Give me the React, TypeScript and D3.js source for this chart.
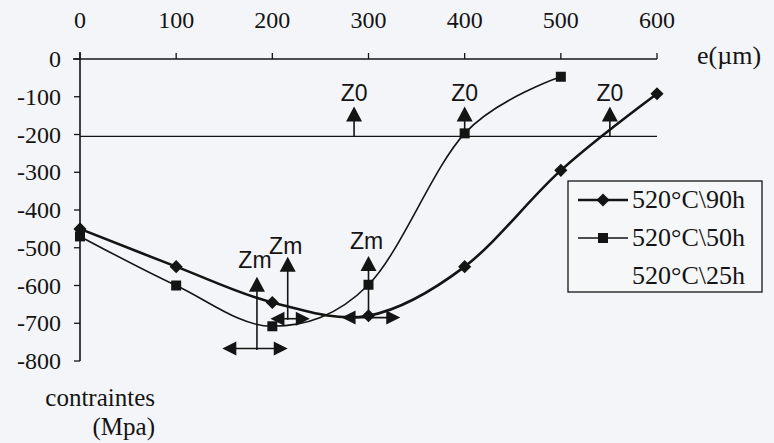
import React, { useEffect, useRef } from "react";
import * as d3 from "d3";

// épaisseur e (µm) et contraintes (MPa)
const depths = [0, 100, 200, 300, 400, 500, 600];
const stress90h = [-450, -550, -645, -680, -550, -295, -92];
const stress50h = [-470, -600, -708, -598, -197, -47];
const xTicks = [0, 100, 200, 300, 400, 500, 600];
const yTicks = [0, -100, -200, -300, -400, -500, -600, -700, -800];
const legendLabels = ["520°C\\90h", "520°C\\50h", "520°C\\25h"];

// annotations (data units)
const z0Level = -205;
const z0Positions = [285, 400, 551];
const zmArrows = [
  { x: 184, from: -771, tip: -577, label: -554 },
  { x: 216, from: -691, tip: -524, label: -517 },
  { x: 300, from: -686, tip: -522, label: -503 },
];
const spanArrows = [
  { y: -767, x0: 148, x1: 216 },
  { y: -688, x0: 198, x1: 239 },
  { y: -685, x0: 272, x1: 333 },
];

const W = 774;
const H = 443;
const INK = "#141414";
const SERIF = "'Liberation Serif', 'Times New Roman', serif";
const SANS = "'Liberation Sans', Arial, sans-serif";

const App = () => {
  const svgRef = useRef<SVGSVGElement>(null);

  useEffect(() => {
    const svg = d3.select(svgRef.current);
    svg.selectAll("*").remove();

    const x = d3.scaleLinear().domain([0, 600]).range([80, 657]);
    const y = d3.scaleLinear().domain([-800, 0]).range([361, 59]);

    svg.append("rect").attr("width", W).attr("height", H).attr("fill", "#f4f5f8");

    // top axis
    const top = svg.append("g");
    top.append("line")
      .attr("x1", x(0) - 7).attr("x2", x(600))
      .attr("y1", y(0)).attr("y2", y(0))
      .attr("stroke", INK).attr("stroke-width", 1.3);
    top.selectAll("line.tick").data(xTicks).join("line")
      .attr("class", "tick")
      .attr("x1", (d) => x(d)).attr("x2", (d) => x(d))
      .attr("y1", y(0)).attr("y2", y(0) - 6)
      .attr("stroke", INK).attr("stroke-width", 1.3);
    top.selectAll("text").data(xTicks).join("text")
      .attr("x", (d) => x(d)).attr("y", 28)
      .attr("text-anchor", "middle")
      .attr("font-family", SERIF).attr("font-size", 24)
      .attr("fill", INK)
      .text((d) => d);

    // left axis
    const left = svg.append("g");
    left.append("line")
      .attr("x1", x(0)).attr("x2", x(0))
      .attr("y1", y(0) - 7).attr("y2", y(-800))
      .attr("stroke", INK).attr("stroke-width", 1.6);
    left.selectAll("line.tick").data(yTicks).join("line")
      .attr("class", "tick")
      .attr("x1", x(0) - 6).attr("x2", x(0))
      .attr("y1", (d) => y(d)).attr("y2", (d) => y(d))
      .attr("stroke", INK).attr("stroke-width", 1.3);
    left.selectAll("text").data(yTicks).join("text")
      .attr("x", 61).attr("y", (d) => y(d) + 8)
      .attr("text-anchor", "end")
      .attr("font-family", SERIF).attr("font-size", 24)
      .attr("fill", INK)
      .text((d) => (d === 0 ? "0" : `-${Math.abs(d)}`));

    svg.append("text")
      .attr("x", 155).attr("y", 406)
      .attr("text-anchor", "end")
      .attr("font-family", SERIF).attr("font-size", 25).attr("fill", INK)
      .text("contraintes");
    svg.append("text")
      .attr("x", 155).attr("y", 435)
      .attr("text-anchor", "end")
      .attr("font-family", SERIF).attr("font-size", 25).attr("fill", INK)
      .text("(Mpa)");
    svg.append("text")
      .attr("x", 697).attr("y", 64)
      .attr("font-family", SERIF).attr("font-size", 26).attr("fill", INK)
      .text("e(µm)");

    // Z0 reference line
    svg.append("line")
      .attr("x1", x(0)).attr("x2", x(600))
      .attr("y1", y(z0Level)).attr("y2", y(z0Level))
      .attr("stroke", INK).attr("stroke-width", 1.4);

    // series
    const line = d3.line<number>()
      .x((_, i) => x(depths[i]))
      .y((d) => y(d))
      .curve(d3.curveCardinal.tension(0));

    svg.append("path").datum(stress50h)
      .attr("d", line).attr("fill", "none")
      .attr("stroke", INK).attr("stroke-width", 1.6);
    svg.append("path").datum(stress90h)
      .attr("d", line).attr("fill", "none")
      .attr("stroke", INK).attr("stroke-width", 2.6);

    svg.append("g").selectAll("rect").data(stress50h).join("rect")
      .attr("x", (_, i) => x(depths[i]) - 5).attr("y", (d) => y(d) - 5)
      .attr("width", 10).attr("height", 10).attr("fill", INK);
    const diamond = d3.symbol().type(d3.symbolDiamond2).size(110);
    svg.append("g").selectAll("path").data(stress90h).join("path")
      .attr("transform", (d, i) => `translate(${x(depths[i])},${y(d)})`)
      .attr("d", diamond).attr("fill", INK);

    // Z0 arrows
    const z0 = svg.append("g");
    z0Positions.forEach((v) => {
      const cx = x(v);
      const base = y(z0Level);
      z0.append("line")
        .attr("x1", cx).attr("x2", cx).attr("y1", base).attr("y2", base - 16)
        .attr("stroke", INK).attr("stroke-width", 1.6);
      z0.append("path")
        .attr("d", `M${cx - 8},${base - 15}L${cx + 8},${base - 15}L${cx},${base - 30}Z`)
        .attr("fill", INK);
      z0.append("text")
        .attr("x", cx).attr("y", base - 35)
        .attr("text-anchor", "middle")
        .attr("font-family", SANS).attr("font-size", 23).attr("fill", INK)
        .text("Z0");
    });

    // Zm arrows
    const zm = svg.append("g");
    zmArrows.forEach((a) => {
      const cx = x(a.x);
      const tip = y(a.tip);
      zm.append("line")
        .attr("x1", cx).attr("x2", cx).attr("y1", y(a.from)).attr("y2", tip + 12)
        .attr("stroke", INK).attr("stroke-width", 1.6);
      zm.append("path")
        .attr("d", `M${cx - 8},${tip + 15}L${cx + 8},${tip + 15}L${cx},${tip}Z`)
        .attr("fill", INK);
      zm.append("text")
        .attr("x", cx - 2).attr("y", y(a.label))
        .attr("text-anchor", "middle")
        .attr("font-family", SANS).attr("font-size", 23).attr("fill", INK)
        .text("Zm");
    });

    // horizontal double arrows
    const sp = svg.append("g");
    spanArrows.forEach((a) => {
      const yy = y(a.y);
      const x0 = x(a.x0);
      const x1 = x(a.x1);
      sp.append("line")
        .attr("x1", x0 + 10).attr("x2", x1 - 10).attr("y1", yy).attr("y2", yy)
        .attr("stroke", INK).attr("stroke-width", 1.6);
      sp.append("path")
        .attr("d", `M${x0},${yy}L${x0 + 14},${yy - 7}L${x0 + 14},${yy + 7}Z`)
        .attr("fill", INK);
      sp.append("path")
        .attr("d", `M${x1},${yy}L${x1 - 14},${yy - 7}L${x1 - 14},${yy + 7}Z`)
        .attr("fill", INK);
    });

    // legend
    const lg = svg.append("g");
    lg.append("rect")
      .attr("x", 568).attr("y", 181).attr("width", 194).attr("height", 111)
      .attr("fill", "#f6f7f9").attr("stroke", INK).attr("stroke-width", 1.3);
    const rows = [208, 246, 284];
    legendLabels.forEach((label, i) => {
      const ry = rows[i] - 8;
      if (i < 2) {
        lg.append("line")
          .attr("x1", 578).attr("x2", 628).attr("y1", ry).attr("y2", ry)
          .attr("stroke", INK).attr("stroke-width", i === 0 ? 2.6 : 1.6);
      }
      if (i === 0) {
        lg.append("path").attr("transform", `translate(603,${ry})`)
          .attr("d", diamond).attr("fill", INK);
      } else if (i === 1) {
        lg.append("rect").attr("x", 598).attr("y", ry - 5)
          .attr("width", 10).attr("height", 10).attr("fill", INK);
      }
      lg.append("text")
        .attr("x", 632).attr("y", rows[i])
        .attr("font-family", SERIF).attr("font-size", 26).attr("fill", INK)
        .text(label);
    });
  }, []);

  return (
    <svg
      ref={svgRef}
      width={W}
      height={H}
      style={{ position: "absolute", left: 0, top: 0 }}
    ></svg>
  );
};

export default App;
